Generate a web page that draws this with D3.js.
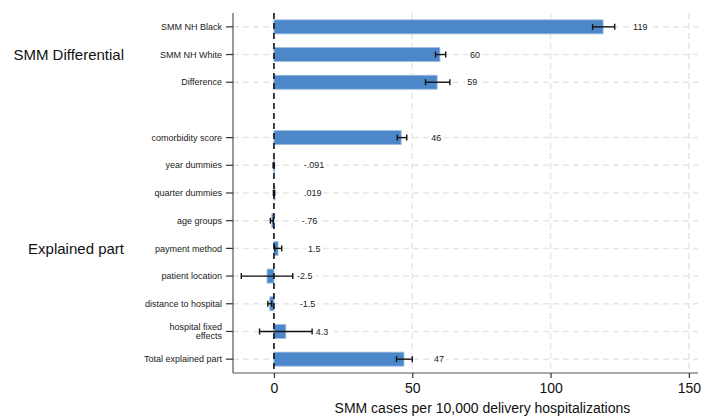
<!DOCTYPE html>
<html>
<head>
<meta charset="utf-8">
<script src="https://cdn.jsdelivr.net/npm/d3@7"></script>
<style>
  body { margin: 0; background: #fff; }
  svg { display: block; font-family: "Liberation Sans", Arial, sans-serif; }
</style>
</head>
<body>
<div id="chart"></div>
<script>
// rows from top to bottom; "" is the blank gap row
const rowLabels = [
  "SMM NH Black", "SMM NH White", "Difference", "",
  "comorbidity score", "year dummies", "quarter dummies", "age groups",
  "payment method", "patient location", "distance to hospital",
  "hospital fixed\neffects", "Total explained part"
];
const estimates = [119, 60, 59, null, 46, -0.091, 0.019, -0.76, 1.5, -2.5, -1.5, 4.3, 47];
const ciLow = [115.2, 58.4, 54.8, null, 44.6, -0.3, -0.2, -1.3, 0.3, -11.8, -2.2, -5.2, 44.3];
const ciHigh = [123.2, 62.1, 63.6, null, 48.0, 0.1, 0.25, -0.2, 2.8, 6.8, -0.8, 13.8, 50.0];
const valueLabels = ["119", "60", "59", "", "46", "-.091", ".019", "-.76", "1.5", "-2.5", "-1.5", "4.3", "47"];
const groupLabels = [
  { text: "SMM Differential", row: 1 },
  { text: "Explained part", row: 8 }
];
const xTicks = [0, 50, 100, 150];

const width = 715, height = 419;
const mLeft = 233, mRight = 698, mTop = 13, mBottom = 373;

const svg = d3.select("#chart").append("svg")
  .attr("width", width).attr("height", height);

const x = d3.scaleLinear().domain([-14.8, 153.3]).range([mLeft, mRight]);
const y = d3.scaleBand().domain(d3.range(rowLabels.length)).range([mTop, mBottom]);
const yc = (i) => y(i) + y.bandwidth() / 2;

// grid
const grid = svg.append("g");
xTicks.filter((t) => t !== 0).forEach((t) => {
  grid.append("line")
    .attr("x1", x(t)).attr("x2", x(t))
    .attr("y1", mTop).attr("y2", mBottom)
    .attr("stroke", "#e6e6e6").attr("stroke-width", 1.5)
    .attr("stroke-dasharray", "6,4");
});
rowLabels.forEach((lab, i) => {
  if (!lab) return;
  grid.append("line")
    .attr("x1", mLeft).attr("x2", mRight)
    .attr("y1", yc(i)).attr("y2", yc(i))
    .attr("stroke", "#e6e6e6").attr("stroke-width", 1.5)
    .attr("stroke-dasharray", "6,4");
});

// bars
const barH = 14;
estimates.forEach((v, i) => {
  if (v === null) return;
  svg.append("rect")
    .attr("x", Math.min(x(0), x(v)))
    .attr("y", yc(i) - barH / 2)
    .attr("width", Math.max(1, Math.abs(x(v) - x(0))))
    .attr("height", barH)
    .attr("fill", "#4c88c9")
    .attr("stroke", "#9dbde2")
    .attr("stroke-width", 0.8);
});

// zero line
svg.append("line")
  .attr("x1", x(0)).attr("x2", x(0))
  .attr("y1", mTop).attr("y2", mBottom)
  .attr("stroke", "#111").attr("stroke-width", 1.6)
  .attr("stroke-dasharray", "6,4");

// error bars
const cap = 3;
estimates.forEach((v, i) => {
  if (v === null) return;
  const g = svg.append("g").attr("stroke", "#111").attr("stroke-width", 1.4);
  const yy = yc(i);
  g.append("line").attr("x1", x(ciLow[i])).attr("x2", x(ciHigh[i])).attr("y1", yy).attr("y2", yy);
  g.append("line").attr("x1", x(ciLow[i])).attr("x2", x(ciLow[i])).attr("y1", yy - cap).attr("y2", yy + cap);
  g.append("line").attr("x1", x(ciHigh[i])).attr("x2", x(ciHigh[i])).attr("y1", yy - cap).attr("y2", yy + cap);
});

// value labels, with a white backing so the grid dashes break around them
estimates.forEach((v, i) => {
  if (v === null) return;
  const t = svg.append("text")
    .attr("x", x(v) + 30)
    .attr("y", yc(i))
    .attr("dy", "0.35em")
    .attr("font-size", "9px")
    .attr("fill", "#222")
    .text(valueLabels[i]);
  const bb = t.node().getBBox();
  svg.insert("rect", () => t.node())
    .attr("x", bb.x - 2).attr("y", bb.y)
    .attr("width", bb.width + 4).attr("height", bb.height)
    .attr("fill", "#fff");
});

// axes
svg.append("g")
  .attr("transform", `translate(0,${mBottom})`)
  .call(d3.axisBottom(x).tickValues(xTicks).tickFormat(d3.format("d")).tickSize(5).tickPadding(5))
  .call((g) => g.select(".domain").attr("d", `M${mLeft},0H${mRight}`).attr("stroke", "#555").attr("stroke-width", 1.2))
  .call((g) => g.selectAll(".tick line").attr("stroke", "#333").attr("stroke-width", 1.2))
  .call((g) => g.selectAll(".tick text").attr("font-size", "14px").attr("fill", "#111")
    .attr("font-family", "Liberation Sans, Arial, sans-serif"));

const yAxis = svg.append("g").attr("transform", `translate(${mLeft},0)`);
yAxis.append("line")
  .attr("x1", 0).attr("x2", 0).attr("y1", mTop).attr("y2", mBottom)
  .attr("stroke", "#555").attr("stroke-width", 1.2);
rowLabels.forEach((lab, i) => {
  if (!lab) return;
  yAxis.append("line")
    .attr("x1", -7).attr("x2", 0).attr("y1", yc(i)).attr("y2", yc(i))
    .attr("stroke", "#333").attr("stroke-width", 1.2);
  const lines = lab.split("\n");
  const t = yAxis.append("text")
    .attr("text-anchor", "end")
    .attr("font-size", "9px")
    .attr("fill", "#222");
  lines.forEach((ln, k) => {
    t.append("tspan")
      .attr("x", -11)
      .attr("y", yc(i) + (k - (lines.length - 1) / 2) * 9.5)
      .attr("dy", "0.35em")
      .text(ln);
  });
});

// group labels
groupLabels.forEach((gl) => {
  svg.append("text")
    .attr("x", 124)
    .attr("y", yc(gl.row))
    .attr("dy", "0.35em")
    .attr("text-anchor", "end")
    .attr("font-size", "15px")
    .attr("fill", "#111")
    .text(gl.text);
});

// x title
svg.append("text")
  .attr("x", (x(0) + x(150)) / 2 + 1)
  .attr("y", 413)
  .attr("text-anchor", "middle")
  .attr("font-size", "14px")
  .attr("fill", "#111")
  .text("SMM cases per 10,000 delivery hospitalizations");
</script>
</body>
</html>
